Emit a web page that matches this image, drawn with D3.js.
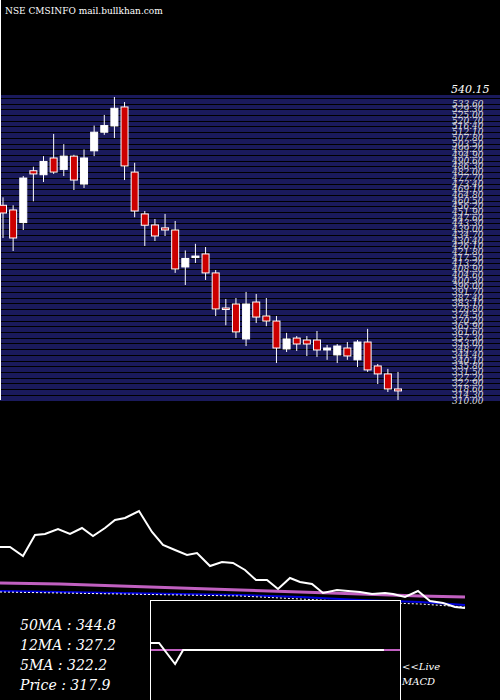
<!DOCTYPE html>
<html>
<head>
<meta charset="utf-8">
<script src="https://cdn.jsdelivr.net/npm/d3@7"></script>
<style>
body{margin:0;background:#000}
svg{display:block;font-family:"DejaVu Serif","Liberation Serif",serif}
</style>
</head>
<body>
<svg></svg>
<script>
const svgWidth = 500;
const svgHeight = 700;

// candles
const opens  = [457,453.5,444,483,480,492.6,484,494,473,498,512,516.7,531,482,450.5,442.2,440,438.4,410.6,418,420.4,406.1,379.7,382.7,356.4,384.2,373.7,369.9,348.9,357.1,355.6,355.6,348.1,344.4,349.6,340.7,354.1,336.1,330.1,318.8];
const highs  = [463,457,479,486,494,510.7,503,495,499,517,525,538.5,534.7,489,452.7,446.7,450.5,445.2,423,428,425.6,408.3,386.5,387.2,391.8,390.3,387.2,373.7,361,358.6,358.6,362.4,351.9,352.6,354.1,355.6,364,337.6,333.9,331.6];
const lows   = [432.4,422.6,438.4,460,474.5,480.6,479,468.5,470,494,510,507.6,476,448,426.4,430.1,433.9,406.1,397,413.6,400.8,373.7,366.7,357.1,351.1,368.4,366,338.3,346.6,347.4,343.6,342.9,340.7,338.3,340.7,335.3,331.6,322.5,316.5,310.5];
const closes = [451.2,432.4,477.5,480.6,490,482,494,476,492.6,512,517,530,486.6,452.7,442,433.9,438.4,409.1,417,418.8,406.1,379,379,361.7,382.7,372.9,369.9,349.6,356.4,352.6,352.6,348.1,349.6,351.1,343.6,354.1,333.1,330.1,318.8,317.3];

// lower panel lines (index units / relative level)
const lineX   = [0,1,2.3,3.5,4.5,5.8,7,8.2,9.3,10.5,11.5,12.5,13.9,15.2,16.3,17.5,18.7,19.7,21,22.2,23.3,24.5,25.6,26.7,27.8,29,30,31.2,32.3,33.7,34.8,36,37.2,38.5,39.3,40.5,41.8,43,44.3,45.5,46.5];
const lineVal = [153,153,144,165,166,171,166,172,164,172,180,182,189,168,155,150,145,147,134,138,137,130,120,120,111,122,118,116,107,110,109,108,106,107,106,103,109,99,97,93,92];
const ma50 = [117,116,114,112,110,108,106,104,103];
const ma12 = [109,108,107,106,105,103,100,98,95];
const ma5  = [108,107,106,105,104,101,98,96,93];
const maX  = [0,6,12,18,24,30,36,42,46.5];

const macdX = [0,1,3,4,29,31];
const macdVal = [57,57,36,50,50,50];

const labels = ["50MA : 344.8","12MA : 327.2","5MA : 322.2","Price   : 317.9"];

const svg = d3.select("svg").attr("width", svgWidth).attr("height", svgHeight);

const yScale = d3.scaleLinear().domain([540, 318]).range([95, 390]);
const xScale = d3.scaleLinear().domain([0, 39]).range([3, 398]);

// striped background
const grid = d3.range(310, 541, 4.3);
svg.append("rect").attr("x", 0).attr("y", 95).attr("width", 500).attr("height", 306).attr("fill", "#1a1a5c");
svg.append("g").selectAll("line").data(grid).enter().append("line")
  .attr("x1", 0).attr("x2", 500)
  .attr("y1", d => Math.round(yScale(d)) + 0.5).attr("y2", d => Math.round(yScale(d)) + 0.5)
  .attr("stroke", "#000").attr("stroke-width", 1);

// overlapped right labels
svg.append("g").selectAll("text").data(grid.slice(0, -1)).enter().append("text")
  .attr("x", 452).attr("y", d => yScale(d) + 3)
  .attr("fill", "#ddd").attr("font-size", 9).attr("font-style", "italic")
  .text(d => d.toFixed(2));
svg.append("text").attr("x", 451).attr("y", 93).attr("fill", "#fff").attr("font-size", 11)
  .attr("font-style", "italic").text("540.15");

// left axis
svg.append("line").attr("x1", 0.5).attr("x2", 0.5).attr("y1", 0).attr("y2", 400).attr("stroke", "#fff");

// candles
const idx = d3.range(opens.length);
svg.append("g").selectAll("line").data(idx).enter().append("line")
  .attr("x1", i => xScale(i)).attr("x2", i => xScale(i))
  .attr("y1", i => yScale(highs[i])).attr("y2", i => yScale(lows[i]))
  .attr("stroke", "#fff").attr("stroke-width", 1);
svg.append("g").selectAll("rect").data(idx).enter().append("rect")
  .attr("x", i => xScale(i) - 3.5).attr("width", 7)
  .attr("y", i => yScale(Math.max(opens[i], closes[i])))
  .attr("height", i => Math.max(1.5, Math.abs(yScale(opens[i]) - yScale(closes[i]))))
  .attr("fill", i => closes[i] < opens[i] ? "#cc0000" : "#fff")
  .attr("stroke", "#fff").attr("stroke-width", 1);

// title
svg.append("text").attr("x", 5).attr("y", 14).attr("fill", "#fff").attr("font-size", 9).text("NSE CMSINFO mail.bullkhan.com");

// lower panel
const lx = d3.scaleLinear().domain([0, 46.5]).range([0, 465]);
const ly = d3.scaleLinear().domain([0, 200]).range([700, 500]);
const mk = (xs, vs) => d3.line().x((d, i) => lx(xs[i])).y(d => ly(d))(vs);
svg.append("path").attr("d", mk(maX, ma50)).attr("fill", "none").attr("stroke", "#c060c0").attr("stroke-width", 3);
svg.append("path").attr("d", mk(maX, ma12)).attr("fill", "none").attr("stroke", "#0000dd").attr("stroke-width", 2);
svg.append("path").attr("d", mk(maX, ma5)).attr("fill", "none").attr("stroke", "#fff").attr("stroke-width", 1).attr("stroke-dasharray", "2,2");
svg.append("path").attr("d", mk(lineX, lineVal)).attr("fill", "none").attr("stroke", "#fff").attr("stroke-width", 2);

// MACD box
svg.append("rect").attr("x", 150.5).attr("y", 600.5).attr("width", 250).attr("height", 110).attr("fill", "#000").attr("stroke", "#fff");
const mx = d3.scaleLinear().domain([0, 31]).range([151, 400]);
svg.append("line").attr("x1", 151).attr("x2", 400).attr("y1", 650).attr("y2", 650).attr("stroke", "#c060c0").attr("stroke-width", 2);
svg.append("path").attr("d", d3.line().x((d, i) => mx(macdX[i])).y(d => ly(d))(macdVal.slice(0, 5)))
  .attr("fill", "none").attr("stroke", "#fff").attr("stroke-width", 2);

svg.append("g").selectAll("text").data(labels).enter().append("text")
  .attr("x", 20).attr("y", (d, i) => 630 + i * 20)
  .attr("fill", "#fff").attr("font-size", 14).attr("font-style", "italic").text(d => d);
svg.append("text").attr("x", 402).attr("y", 670).attr("fill", "#fff").attr("font-size", 10).attr("font-style", "italic").text("<<Live");
svg.append("text").attr("x", 402).attr("y", 685).attr("fill", "#fff").attr("font-size", 10).attr("font-style", "italic").text("MACD");
</script>
</body>
</html>
